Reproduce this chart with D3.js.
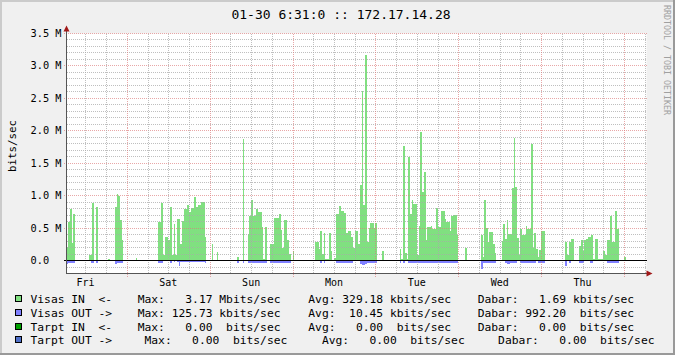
<!DOCTYPE html>
<html lang="en">
<head>
<meta charset="UTF-8">
<title>172.17.14.28 traffic</title>
<script src="https://cdnjs.cloudflare.com/ajax/libs/d3/7.8.5/d3.min.js"></script>
<style>
  body { margin: 0; background: #f0f0f0; }
  svg text { font-family: "DejaVu Sans Mono", monospace; white-space: pre; }
</style>
</head>
<body>
<svg id="chart" width="675" height="355"></svg>
<script>
// --- data (Mbits/sec, one value per 30 min, starting Fri 01-23 06:31) ---
const startTime = new Date(2015, 0, 23, 6, 31);
const stepMinutes = 30;

const visasIn = [
  0.21, 0.59, 0.79, 0.27, 0.72, 0, 0, 0, 0, 0, 0, 0, 0, 0.08, 0.08, 0.88, 0, 0.82, 0, 0, 0, 0, 0, 0,
  0.02, 0, 0, 0, 0.82, 1.02, 0.99, 0.62, 0.32, 0, 0, 0, 0, 0, 0, 0, 0.04, 0, 0, 0, 0, 0, 0, 0,
  0, 0, 0, 0, 0, 0.59, 0.59, 0.88, 0.08, 0.36, 0.36, 0.31, 0.82, 0.08, 0.57, 0.08, 0.64, 0.64, 0.25, 0.61, 0.8, 0.8, 0.85, 0.75,
  0.81, 0.81, 0.98, 0.82, 0.85, 0.85, 0.91, 0.91, 0.36, 0, 0, 0, 0.25, 0, 0, 0.13, 0, 0, 0, 0, 0, 0, 0, 0,
  0, 0, 0, 0.06, 0, 0, 1.87, 0, 0, 0.41, 0.69, 0.94, 0.69, 0.69, 0.79, 0.75, 0.75, 0.51, 0.03, 0.51, 0, 0, 0.26, 0.25,
  0.66, 0.66, 0.66, 0.71, 0.47, 0.2, 0.63, 0.63, 0.31, 0.1, 0, 0.15, 0, 0, 0, 0, 0, 0, 0, 0, 0, 0, 0, 0,
  0.28, 0.28, 0.18, 0.45, 0.1, 0.42, 0.02, 0.02, 0.42, 0.14, 0, 0.04, 0.72, 0.72, 0.84, 0.77, 0.77, 0.74, 0.42, 0.46, 0.46, 0.37, 0.2, 0.45,
  0.45, 0.26, 1.16, 2.62, 0.85, 3.17, 0.29, 0.5, 0.58, 0.58, 0.5, 0.58, 0, 0, 0, 0.15, 0, 0, 0, 0, 0, 0, 0, 0,
  0, 0.18, 0.03, 1.77, 0.12, 0.03, 1.6, 0.71, 0.94, 0.87, 0.87, 0.08, 0.54, 1.98, 1.05, 1.36, 0.32, 0.51, 0.51, 0.54, 0.49, 0.49, 0.81, 0.51,
  0.51, 0.77, 0.77, 0.64, 0.59, 0.59, 0.46, 0.69, 0.7, 0.7, 0.39, 0, 0, 0, 0, 0.2, 0, 0, 0, 0, 0, 0, 0, 0,
  0.4, 0.05, 0.94, 0.5, 0.28, 0.44, 0.44, 0.26, 0.11, 0, 0, 0, 0.3, 0.56, 0.33, 0.63, 0.41, 0.41, 1.12, 1.89, 1.13, 0.35, 0.08, 0.49,
  0.4, 0.4, 0.54, 0.49, 0.49, 1.8, 0.2, 0.42, 0.18, 0.05, 0.17, 0.46, 0.46, 0, 0, 0, 0, 0, 0, 0, 0, 0, 0, 0,
  0, 0.28, 0.09, 0.28, 0.33, 0.33, 0, 0, 0, 0.22, 0.31, 0.14, 0.31, 0.33, 0.36, 0.36, 0.4, 0.03, 0.33, 0.33, 0.03, 0.02, 0.02, 0.15,
  0.08, 0.31, 0.31, 0.69, 0.28, 0.28, 0.77, 0.49, 0, 0, 0, 0.06, 0, 0, 0, 0, 0, 0, 0, 0, 0, 0, 0, 0
];

// outgoing traffic, drawn below zero
const visasOut = [
  0.05, 0.04, 0.04, 0.04, 0.04, 0, 0, 0, 0, 0, 0, 0, 0, 0, 0.04, 0.04, 0, 0.04, 0, 0, 0, 0, 0, 0,
  0, 0, 0, 0, 0.06, 0.04, 0.04, 0.04, 0.04, 0, 0, 0, 0, 0, 0, 0, 0, 0, 0, 0, 0, 0, 0, 0,
  0, 0, 0, 0, 0, 0.04, 0.04, 0.04, 0, 0, 0, 0, 0.04, 0, 0.03, 0, 0.03, 0.09, 0.03, 0.03, 0.03, 0.03, 0.03, 0.03,
  0.03, 0.03, 0.03, 0.03, 0.03, 0.03, 0.03, 0.03, 0.04, 0, 0, 0, 0, 0, 0, 0, 0, 0, 0, 0, 0, 0, 0, 0,
  0, 0, 0, 0.04, 0, 0, 0.04, 0, 0, 0.04, 0.04, 0.04, 0.04, 0.04, 0.04, 0.04, 0.04, 0.04, 0.04, 0.04, 0, 0, 0.04, 0.04,
  0.04, 0.04, 0.04, 0.04, 0.04, 0.04, 0.04, 0.04, 0.04, 0.04, 0, 0, 0, 0, 0, 0, 0, 0, 0, 0, 0, 0, 0, 0,
  0, 0, 0, 0.04, 0, 0.04, 0, 0, 0, 0, 0, 0, 0.04, 0.04, 0.04, 0.04, 0.04, 0.04, 0.04, 0.04, 0.04, 0.04, 0, 0,
  0, 0, 0.05, 0.07, 0.07, 0.05, 0.04, 0.04, 0.04, 0.04, 0.04, 0.04, 0, 0, 0, 0, 0, 0, 0, 0, 0, 0, 0, 0,
  0, 0.04, 0, 0.04, 0, 0, 0.04, 0.04, 0.04, 0.04, 0.04, 0.04, 0.04, 0.04, 0.04, 0.04, 0.04, 0.04, 0.04, 0.04, 0.04, 0.04, 0.04, 0.04,
  0.04, 0.04, 0.04, 0.04, 0.04, 0.04, 0.04, 0.04, 0.04, 0.04, 0.04, 0, 0, 0, 0, 0, 0, 0, 0, 0, 0, 0, 0, 0,
  0.126, 0.04, 0.04, 0.04, 0.04, 0.04, 0.04, 0.04, 0.04, 0, 0, 0, 0, 0, 0.04, 0.05, 0.05, 0.04, 0.04, 0.04, 0.04, 0, 0, 0.04,
  0.04, 0.04, 0.04, 0.04, 0.04, 0.04, 0.04, 0.04, 0, 0.04, 0.04, 0.04, 0.04, 0, 0, 0, 0, 0, 0, 0, 0, 0, 0, 0,
  0, 0.09, 0, 0.04, 0, 0, 0, 0, 0, 0.04, 0.04, 0.04, 0, 0, 0, 0.04, 0.04, 0, 0, 0, 0, 0, 0, 0,
  0, 0.04, 0.04, 0.04, 0.04, 0.04, 0.04, 0.04, 0, 0, 0, 0, 0, 0, 0, 0, 0, 0, 0, 0, 0, 0, 0, 0
];

const yTickValues = [0, 0.5, 1.0, 1.5, 2.0, 2.5, 3.0, 3.5];
const yTickLabels = ["0.0", "0.5 M", "1.0 M", "1.5 M", "2.0 M", "2.5 M", "3.0 M", "3.5 M"];

// legend
const legendNames  = ["Visas IN  <-", "Visas OUT ->", "Tarpt IN  <-", "Tarpt OUT ->"];
const legendColors = ["#80e080", "#8080ff", "#00a000", "#5070c8"];
const maxValues    = [3.17, 125.73, 0.00, 0.00];
const maxUnits     = ["M", "k", " ", " "];
const avgValues    = [329.18, 10.45, 0.00, 0.00];
const avgUnits     = ["k", "k", " ", " "];
const curValues    = [1.69, 992.20, 0.00, 0.00];
const curUnits     = ["k", " ", " ", " "];

const title = "01-30 6:31:0 :: 172.17.14.28";

// --- layout ---
const W = 675, H = 355;
const svg = d3.select("#chart");

const x = d3.scaleTime()
  .domain([startTime, d3.timeDay.offset(startTime, 7)])
  .range([66.5, 646.5]);
const y = d3.scaleLinear().domain([-0.2, 3.5]).range([273.5, 33.5]);

// background + 3d frame
svg.append("rect").attr("width", W).attr("height", H).attr("fill", "#f0f0f0");
svg.append("rect").attr("x", 0).attr("y", 0).attr("width", W).attr("height", 2).attr("fill", "#cbcbcb");
svg.append("rect").attr("x", 0).attr("y", 0).attr("width", 2).attr("height", H).attr("fill", "#cbcbcb");
svg.append("rect").attr("x", 0).attr("y", H - 2).attr("width", W).attr("height", 2).attr("fill", "#999");
svg.append("rect").attr("x", W - 2).attr("y", 0).attr("width", 2).attr("height", H).attr("fill", "#999");

// canvas
svg.append("rect")
  .attr("x", x.range()[0]).attr("y", y(3.5))
  .attr("width", x.range()[1] - x.range()[0])
  .attr("height", y(-0.2) - y(3.5))
  .attr("fill", "#fff");

// data areas
const series = (vals, sign) => {
  const pts = vals.map((v, i) => ({ t: d3.timeMinute.offset(startTime, i * stepMinutes), v: v * sign }));
  pts.push({ t: d3.timeMinute.offset(startTime, vals.length * stepMinutes), v: vals[vals.length - 1] * sign });
  return pts;
};
const area = d3.area()
  .curve(d3.curveStepAfter)
  .x(d => x(d.t))
  .y0(y(0))
  .y1(d => y(d.v));

svg.append("path").datum(series(visasIn, 1))
  .attr("d", area).attr("fill", legendColors[0]).attr("shape-rendering", "crispEdges");
svg.append("path").datum(series(visasOut, -1))
  .attr("d", area).attr("fill", legendColors[1]).attr("shape-rendering", "crispEdges");

// grid (semi-transparent, over the data like rrdtool)
const grid = svg.append("g").attr("shape-rendering", "crispEdges");
const x0 = x.range()[0], x1 = x.range()[1];
const yTop = y(3.5), yBot = y(-0.2);
const minorColor = "rgba(170,170,170,0.75)";
const majorColor = "rgba(220,120,120,0.65)";

y.ticks(37).forEach(v => {
  const major = yTickValues.some(t => Math.abs(t - v) < 1e-6);
  if (Math.abs(v) < 1e-6) return; // zero gets the black rule
  grid.append("line")
    .attr("x1", major ? x0 - 3 : x0).attr("x2", x1)
    .attr("y1", Math.floor(y(v)) + 0.5).attr("y2", Math.floor(y(v)) + 0.5)
    .attr("stroke", major ? majorColor : minorColor)
    .attr("stroke-dasharray", "1,1");
});
x.ticks(d3.timeHour.every(6)).forEach(t => {
  const major = t.getHours() === 0;
  grid.append("line")
    .attr("x1", Math.round(x(t)) + 0.5).attr("x2", Math.round(x(t)) + 0.5)
    .attr("y1", yTop).attr("y2", major ? yBot + 3 : yBot)
    .attr("stroke", major ? majorColor : minorColor)
    .attr("stroke-dasharray", "1,1");
});

// zero line
const zeroY = Math.floor(y(0)) + 0.5;
svg.append("line")
  .attr("x1", x0 - 3).attr("x2", x1)
  .attr("y1", zeroY).attr("y2", zeroY)
  .attr("stroke", "#000").attr("shape-rendering", "crispEdges");

// axes + arrows
svg.append("line").attr("x1", x0).attr("x2", x0).attr("y1", yBot).attr("y2", yTop - 4)
  .attr("stroke", "#555").attr("shape-rendering", "crispEdges");
svg.append("line").attr("x1", x0).attr("x2", x1 + 1).attr("y1", yBot).attr("y2", yBot)
  .attr("stroke", "#555").attr("shape-rendering", "crispEdges");
svg.append("path")
  .attr("d", `M${x0 - 3},${yTop - 2} L${x0 + 3},${yTop - 2} L${x0},${yTop - 8} Z`)
  .attr("fill", "#a01818");
svg.append("path")
  .attr("d", `M${x1},${yBot - 3} L${x1},${yBot + 3} L${x1 + 6},${yBot} Z`)
  .attr("fill", "#a01818");

// y labels
yTickValues.forEach((v, i) => {
  svg.append("text")
    .attr("x", 30.5).attr("y", y(v) + 3.5)
    .attr("font-size", "10.3px").attr("fill", "#000")
    .text(yTickLabels[i]);
});

// day labels at noon
d3.timeDay.range(d3.timeDay.floor(startTime), x.domain()[1]).forEach(d => {
  const noon = d3.timeHour.offset(d, 12);
  if (noon < x.domain()[0] || noon > x.domain()[1]) return;
  svg.append("text")
    .attr("x", x(noon)).attr("y", 286)
    .attr("text-anchor", "middle")
    .attr("font-size", "10px").attr("fill", "#000")
    .text(d3.timeFormat("%a")(noon));
});

// y axis title
svg.append("text")
  .attr("transform", "translate(16,146) rotate(-90)")
  .attr("text-anchor", "middle")
  .attr("font-size", "10.8px").attr("fill", "#000")
  .text("bits/sec");

// title
svg.append("text")
  .attr("x", 341).attr("y", 18.5)
  .attr("text-anchor", "middle")
  .attr("font-size", "13px").attr("fill", "#000")
  .text(title);

// watermark
svg.append("text")
  .attr("transform", "translate(664,5) rotate(90)")
  .attr("font-size", "8.3px").attr("fill", "#a0a0a0")
  .text("RRDTOOL / TOBI OETIKER");

// legend
const fmt = d3.format("7.2f");
const charW = 6.8;
const rowShift = [0, 0, 0, 1];
legendNames.forEach((name, i) => {
  const by = 303 + i * 13.8;
  const s = rowShift[i] * charW;
  svg.append("rect")
    .attr("x", 15.5).attr("y", by - 7.5).attr("width", 6).attr("height", 6)
    .attr("fill", legendColors[i]).attr("stroke", "#000").attr("stroke-width", 1)
    .attr("shape-rendering", "crispEdges");
  const parts = [
    [30.5, name],
    [137.7 + s, "Max:" + fmt(maxValues[i]) + " " + maxUnits[i] + "bits/sec"],
    [308.3 + 2 * s, "Avg:" + fmt(avgValues[i]) + " " + avgUnits[i] + "bits/sec"],
    [477.7 + 3 * s, "Dabar:" + fmt(curValues[i]) + " " + curUnits[i] + "bits/sec"]
  ];
  parts.forEach(([px, str]) => {
    svg.append("text")
      .attr("x", px).attr("y", by)
      .attr("font-size", "11.3px").attr("fill", "#000")
      .text(str);
  });
});
</script>
</body>
</html>
